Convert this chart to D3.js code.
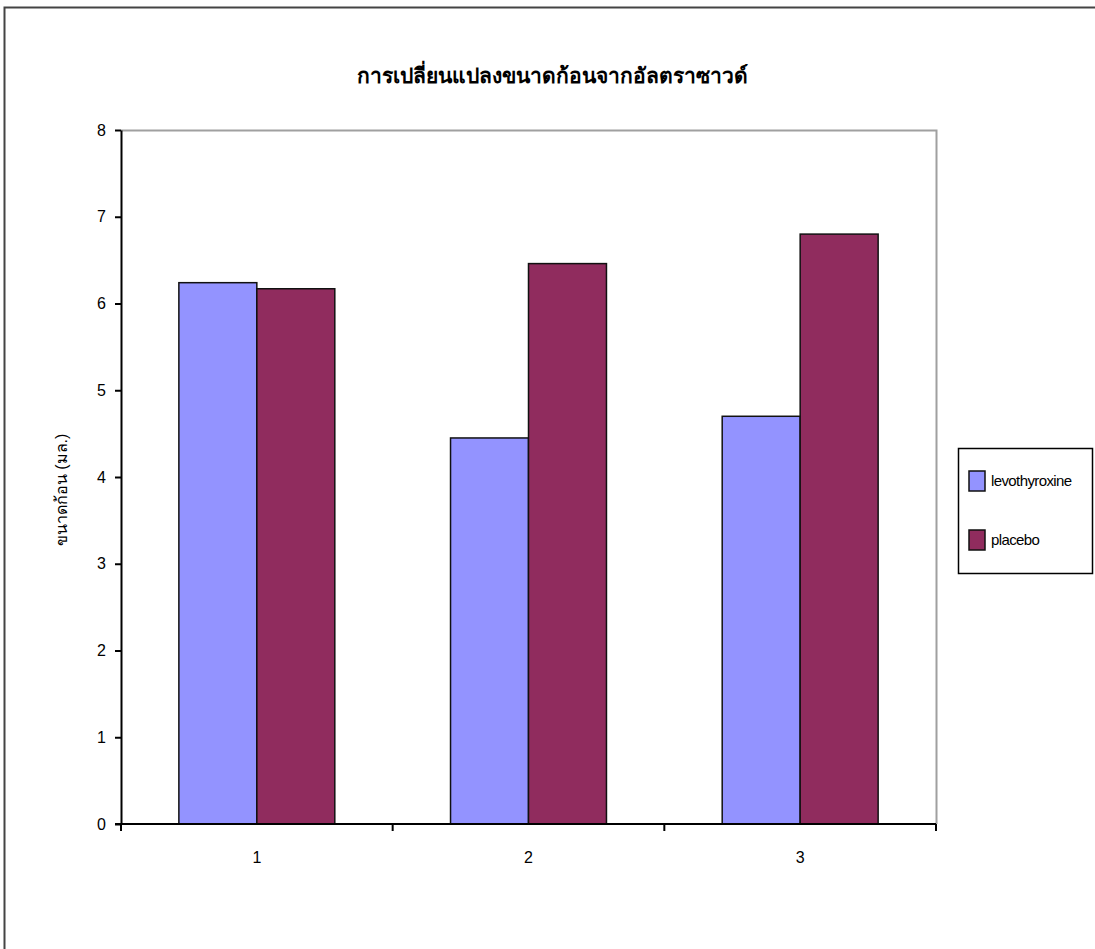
<!DOCTYPE html>
<html>
<head>
<meta charset="utf-8">
<script src="https://cdn.jsdelivr.net/npm/d3@7"></script>
<style>
  body { margin: 0; background: #fff; }
  text { font-family: Arial, "Liberation Sans", sans-serif; fill: #000; }
</style>
</head>
<body>
<div id="barChart"></div>
<script>
// data
var groups = ["1", "2", "3"];
var subgroups = ["levothyroxine", "placebo"];
var levothyroxine = [6.24, 4.45, 4.70];
var placebo = [6.17, 6.46, 6.80];
var yTicks = [0, 1, 2, 3, 4, 5, 6, 7, 8];
var chartTitle = "การเปลี่ยนแปลงขนาดก้อนจากอัลตราซาวด์";
var yTitle = "ขนาดก้อน (มล.)";

var data = groups.map(function(g, i) {
    return {group: g, levothyroxine: levothyroxine[i], placebo: placebo[i]};
});

// set the dimensions and margins of the graph
var margin = {top: 130, right: 159, bottom: 125, left: 121},
    width = 1095 - margin.left - margin.right,
    height = 949 - margin.top - margin.bottom;

var root = d3.select("#barChart")
    .append("svg")
        .attr("width", 1095)
        .attr("height", 949);

// outer chart frame
root.append("rect")
    .attr("x", 4.5)
    .attr("y", 7.5)
    .attr("width", 1200)
    .attr("height", 1200)
    .attr("fill", "none")
    .attr("stroke", "#444")
    .attr("stroke-width", 2);

var svg = root.append("g")
    .attr("transform", "translate(" + margin.left + "," + margin.top + ")");

var x = d3.scaleBand()
    .domain(groups)
    .range([0, width])
    .padding(0);

var gap = x.bandwidth() * 0.213;
var xSubgroup = d3.scaleBand()
    .domain(subgroups)
    .range([gap, x.bandwidth() - gap])
    .padding(0);

var y = d3.scaleLinear()
    .domain([0, 8])
    .range([height, 0]);

var color = d3.scaleOrdinal()
    .domain(subgroups)
    .range(["#9393ff", "#902c5e"]);

// plot area border (gray top and right)
svg.append("path")
    .attr("d", "M0,0.5H" + (width + 0.5) + "V" + height)
    .attr("fill", "none")
    .attr("stroke", "#a0a0a0")
    .attr("stroke-width", 2);

// bars
svg.append("g")
    .selectAll("g")
    .data(data)
    .enter()
    .append("g")
        .attr("transform", function(d) { return "translate(" + x(d.group) + ",0)"; })
    .selectAll("rect")
    .data(function(d) { return subgroups.map(function(key) { return {key: key, value: d[key]}; }); })
    .enter().append("rect")
        .attr("x", function(d) { return xSubgroup(d.key); })
        .attr("y", function(d) { return y(d.value); })
        .attr("width", xSubgroup.bandwidth())
        .attr("height", function(d) { return height - y(d.value); })
        .attr("fill", function(d) { return color(d.key); })
        .attr("stroke", "#111")
        .attr("stroke-width", 1.5);

// Y axis
var yAxis = svg.append("g")
    .call(d3.axisLeft(y).tickValues(yTicks).tickSize(6).tickPadding(9).tickSizeOuter(0));
yAxis.select(".domain").attr("stroke", "#000").attr("stroke-width", 2);
yAxis.selectAll(".tick line").attr("stroke", "#000").attr("stroke-width", 2);
yAxis.selectAll("text").style("font-size", "16px").attr("fill", "#000");

// X axis: ticks between categories, labels at centres
var xAxis = svg.append("g")
    .attr("transform", "translate(0," + height + ")");
xAxis.append("line")
    .attr("x1", -6).attr("x2", width)
    .attr("stroke", "#000").attr("stroke-width", 2);
xAxis.selectAll(".sep")
    .data(d3.range(groups.length + 1))
    .enter().append("line")
        .attr("x1", function(i) { return i * x.step(); })
        .attr("x2", function(i) { return i * x.step(); })
        .attr("y1", 0).attr("y2", 7)
        .attr("stroke", "#000").attr("stroke-width", 2);
xAxis.selectAll(".lab")
    .data(groups)
    .enter().append("text")
        .attr("x", function(d) { return x(d) + x.bandwidth() / 2; })
        .attr("y", 39)
        .attr("text-anchor", "middle")
        .style("font-size", "16px")
        .text(function(d) { return d; });

// titles
root.append("text")
    .attr("x", 552)
    .attr("y", 83)
    .attr("text-anchor", "middle")
    .style("font-size", "21px")
    .style("font-weight", "bold")
    .text(chartTitle);

root.append("text")
    .attr("transform", "rotate(-90)")
    .attr("x", -490)
    .attr("y", 67)
    .attr("text-anchor", "middle")
    .style("font-size", "16px")
    .text(yTitle);

// legend
var legend = root.append("g").attr("transform", "translate(958,448)");
legend.append("rect")
    .attr("x", 0.5).attr("y", 0.5)
    .attr("width", 134).attr("height", 125)
    .attr("fill", "#fff")
    .attr("stroke", "#000")
    .attr("stroke-width", 1.5);
subgroups.forEach(function(key, i) {
    legend.append("rect")
        .attr("x", 11).attr("y", 23 + i * 59)
        .attr("width", 16).attr("height", 20)
        .attr("fill", color(key))
        .attr("stroke", "#111")
        .attr("stroke-width", 1.5);
    legend.append("text")
        .attr("x", 33).attr("y", 38 + i * 59)
        .style("font-size", "15px")
        .style("letter-spacing", "-0.6px")
        .text(key);
});
</script>
</body>
</html>
